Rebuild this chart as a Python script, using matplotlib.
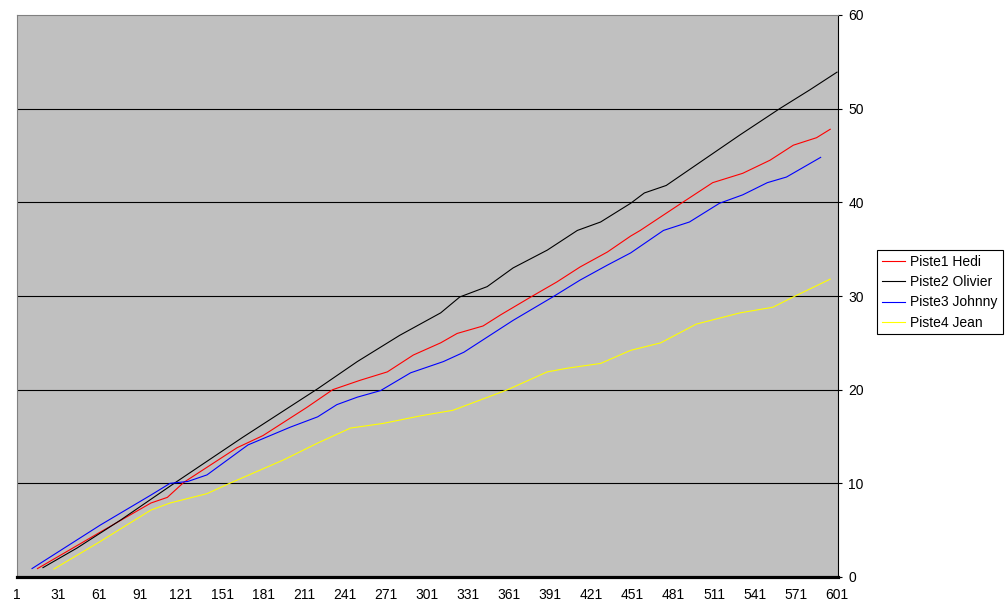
import matplotlib
matplotlib.use("Agg")
import matplotlib.pyplot as plt

plt.rcParams['font.family'] = ['Liberation Sans', 'DejaVu Sans']

# ---- data (category index, cumulative value) ----
hedi_x = [16, 62, 99, 111, 123, 162, 181, 213, 232, 252, 272, 291, 311, 323, 342, 355,
          377, 396, 413, 433, 450, 457, 487, 510, 532, 552, 569, 586, 596]
hedi_y = [0.9, 4.8, 7.9, 8.5, 10.1, 13.8, 15.1, 18.1, 20.0, 21.0, 21.9, 23.7, 25.0, 26.0,
          26.8, 28.0, 29.9, 31.5, 33.1, 34.7, 36.4, 37.0, 39.9, 42.1, 43.1, 44.5, 46.1, 46.9, 47.8]

olivier_x = [20, 45, 77, 99, 116, 166, 221, 250, 281, 311, 325, 345, 364, 389, 411, 428,
             450, 460, 476, 500, 530, 559, 581, 601]
olivier_y = [1.0, 3.1, 6.1, 8.3, 10.0, 14.9, 20.1, 23.0, 25.8, 28.2, 29.9, 31.0, 33.0, 34.9,
             37.0, 37.9, 39.9, 41.0, 41.8, 44.2, 47.2, 50.0, 52.0, 53.9]

johnny_x = [12, 62, 99, 113, 126, 140, 170, 201, 221, 235, 250, 267, 289, 313, 328, 364,
            393, 413, 433, 450, 474, 493, 515, 532, 550, 564, 589]
johnny_y = [0.9, 5.55, 8.75, 10.0, 10.2, 10.9, 14.1, 16.0, 17.1, 18.4, 19.2, 19.9, 21.8, 23.0,
            24.0, 27.4, 29.9, 31.7, 33.3, 34.6, 37.0, 37.9, 39.9, 40.8, 42.1, 42.7, 44.8]

jean_x = [28, 62, 99, 113, 140, 155, 196, 221, 245, 269, 296, 320, 340, 360, 389, 404,
          428, 450, 472, 498, 530, 554, 569, 596]
jean_y = [0.85, 3.8, 7.15, 7.9, 8.9, 9.9, 12.5, 14.3, 15.9, 16.4, 17.2, 17.8, 18.9, 20.0,
          21.9, 22.3, 22.8, 24.2, 25.0, 27.0, 28.2, 28.8, 29.9, 31.8]

series_names = ["Piste1 Hedi", "Piste2 Olivier", "Piste3 Johnny", "Piste4 Jean"]
series_colors = ["#FF0000", "#000000", "#0000FF", "#FFFF00"]

x_ticks = list(range(1, 602, 30))
x_ticklabels = [str(v) for v in x_ticks]
y_ticks = [0, 10, 20, 30, 40, 50, 60]

# ---- figure ----
W, H = 1006, 608
fig = plt.figure(figsize=(W / 100, H / 100), dpi=100)
fig.patch.set_facecolor("white")
L, R, T, B = 17, 838, 15, 577
ax = fig.add_axes([L / W, 1 - B / H, (R - L) / W, (B - T) / H])
ax.set_facecolor("#C0C0C0")

for yv in y_ticks[1:-1]:
    ax.axhline(yv, color="black", lw=0.8, zorder=1)

data = [(hedi_x, hedi_y), (olivier_x, olivier_y), (johnny_x, johnny_y), (jean_x, jean_y)]
for (xs, ys), name, col in zip(data, series_names, series_colors):
    ax.plot(xs, ys, color=col, lw=0.8, label=name, zorder=3)

ax.set_xlim(1.37, 601.7)
ax.set_ylim(0, 60)

ax.yaxis.tick_right()
ax.set_yticks(y_ticks)
ax.tick_params(axis="y", direction="out", length=3, width=0.8, color="black",
               pad=4.5, labelsize=10, left=False, right=True)
ax.set_xticks(x_ticks)
ax.set_xticklabels(x_ticklabels)
ax.tick_params(axis="x", length=0, pad=8, labelsize=10)

ax.spines["top"].set_color("#808080")
ax.spines["left"].set_color("#808080")
ax.spines["top"].set_linewidth(0.8)
ax.spines["left"].set_linewidth(0.8)
ax.spines["right"].set_color("black")
ax.spines["right"].set_linewidth(0.8)
ax.spines["bottom"].set_color("black")
ax.spines["bottom"].set_linewidth(2.3)

leg = fig.legend(loc="upper left", bbox_to_anchor=(877 / W, 1 - 250 / H),
                 bbox_transform=fig.transFigure, fancybox=False, frameon=True,
                 edgecolor="black", framealpha=1, fontsize=10, borderaxespad=0,
                 handlelength=1.65, handletextpad=0.4, borderpad=0.35, labelspacing=0.45)
leg.get_frame().set_linewidth(0.8)
for h in leg.get_lines():
    h.set_linewidth(0.8)

fig.savefig("out.png", dpi=100, facecolor="white")
